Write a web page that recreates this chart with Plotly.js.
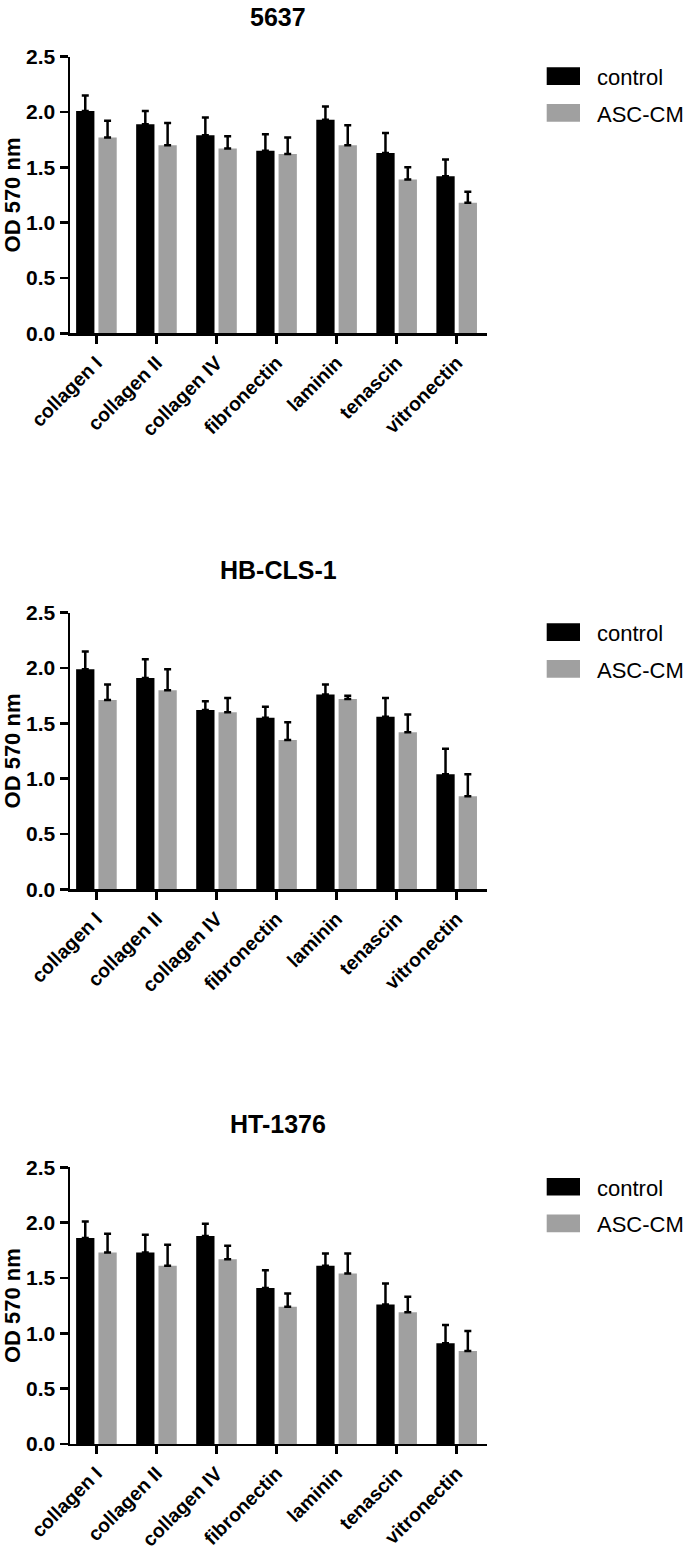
<!DOCTYPE html>
<html>
<head>
<meta charset="utf-8">
<script src="https://cdn.plot.ly/plotly-3.0.1.min.js"></script>
<style>html,body{margin:0;padding:0;background:#fff;}#chart{width:685px;height:1550px;}</style>
</head>
<body>
<div id="chart"></div>
<script>
// ---- data ----
const categories = ['collagen I', 'collagen II', 'collagen IV', 'fibronectin', 'laminin', 'tenascin', 'vitronectin'];
const seriesNames = ['control', 'ASC-CM'];
const panelTitles = ['5637', 'HB-CLS-1', 'HT-1376'];
const yTickVals = [0, 0.5, 1.0, 1.5, 2.0, 2.5];

const control5637 = [2.01, 1.89, 1.79, 1.65, 1.93, 1.63, 1.42];
const control5637Err = [0.14, 0.12, 0.16, 0.15, 0.12, 0.18, 0.15];
const asc5637 = [1.77, 1.70, 1.67, 1.62, 1.70, 1.39, 1.18];
const asc5637Err = [0.15, 0.20, 0.11, 0.15, 0.18, 0.11, 0.10];

const controlHB = [1.99, 1.91, 1.62, 1.55, 1.76, 1.56, 1.04];
const controlHBErr = [0.16, 0.17, 0.08, 0.10, 0.09, 0.17, 0.23];
const ascHB = [1.71, 1.80, 1.60, 1.35, 1.72, 1.42, 0.84];
const ascHBErr = [0.14, 0.19, 0.13, 0.16, 0.03, 0.16, 0.20];

const controlHT = [1.86, 1.73, 1.88, 1.41, 1.61, 1.26, 0.91];
const controlHTErr = [0.15, 0.16, 0.11, 0.16, 0.11, 0.19, 0.165];
const ascHT = [1.73, 1.61, 1.67, 1.24, 1.54, 1.19, 0.84];
const ascHTErr = [0.17, 0.19, 0.12, 0.12, 0.18, 0.14, 0.18];

// ---- layout helpers ----
const W = 685, H = 1550;
const FONT = 'Liberation Sans, Arial, Helvetica, sans-serif';
const colors = ['#000000', '#a0a0a0'];
const plotLeft = 70, plotRight = 486.7;
const panelTops = [56.7, 612.7, 1167.3];
const panelH = 276.6;
const px = x => x / W;
const py = y => 1 - y / H;

const panels = [
  {ctrl: control5637, ctrlErr: control5637Err, asc: asc5637, ascErr: asc5637Err},
  {ctrl: controlHB, ctrlErr: controlHBErr, asc: ascHB, ascErr: ascHBErr},
  {ctrl: controlHT, ctrlErr: controlHTErr, asc: ascHT, ascErr: ascHTErr}
];

const traces = [];
const layout = {
  width: W, height: H,
  margin: {l: 0, r: 0, t: 0, b: 0},
  paper_bgcolor: '#ffffff', plot_bgcolor: '#ffffff',
  barmode: 'group', bargap: 0.257, bargroupgap: 0.18,
  showlegend: false,
  font: {family: FONT, color: '#000'},
  shapes: [], annotations: []
};

panels.forEach((p, i) => {
  const n = i === 0 ? '' : String(i + 1);
  const xa = 'x' + n, ya = 'y' + n;
  const zeros = categories.map(() => 0);
  [[p.ctrl, p.ctrlErr], [p.asc, p.ascErr]].forEach((s, k) => {
    traces.push({
      type: 'bar', name: seriesNames[k], x: categories, y: s[0],
      xaxis: xa, yaxis: ya,
      marker: {color: colors[k], line: {width: 0}},
      error_y: {type: 'data', array: s[1], arrayminus: zeros, symmetric: false,
                color: '#000', thickness: 2.5, width: 3.5},
      hoverinfo: 'x+y+name'
    });
  });
  const top = panelTops[i], bot = top + panelH;
  layout['xaxis' + n] = {
    domain: [px(plotLeft), px(plotRight)], anchor: ya,
    type: 'category', range: [-0.44, 6.5],
    showline: true, linecolor: '#000', linewidth: 2.5,
    ticks: 'outside', ticklen: 8, tickwidth: 2.5, tickcolor: '#000',
    tickangle: -45, showgrid: false, zeroline: false,
    tickfont: {family: FONT, size: 19.5, color: '#000', weight: 'bold'},
    automargin: false, fixedrange: true
  };
  layout['yaxis' + n] = {
    domain: [py(bot), py(top)], anchor: xa,
    range: [0, 2.5], tickvals: yTickVals, tickformat: '.1f',
    showline: true, linecolor: '#000', linewidth: 2.5,
    ticks: 'outside', ticklen: 8, tickwidth: 2.5, tickcolor: '#000',
    showgrid: false, zeroline: false,
    tickfont: {family: FONT, size: 21, color: '#000', weight: 'bold'},
    title: {text: 'OD 570 nm', font: {family: FONT, size: 22, color: '#000', weight: 'bold'}, standoff: 5},
    automargin: false, fixedrange: true
  };
  // panel title
  layout.annotations.push({
    xref: 'paper', yref: 'paper', x: px((plotLeft + plotRight) / 2), y: py(Math.max(top - 43, 17)),
    xanchor: 'center', yanchor: 'middle', showarrow: false,
    text: '<b>' + panelTitles[i] + '</b>',
    font: {family: FONT, size: 25, color: '#000'}
  });
  // legend
  const legOff = [[10.6, 28.3], [47.3, 65]];
  seriesNames.forEach((name, k) => {
    layout.shapes.push({
      type: 'rect', xref: 'paper', yref: 'paper',
      x0: px(546.7), x1: px(580), y0: py(top + legOff[k][0]), y1: py(top + legOff[k][1]),
      fillcolor: colors[k], line: {width: 0}
    });
    layout.annotations.push({
      xref: 'paper', yref: 'paper', x: px(595), y: py(top + (legOff[k][0] + legOff[k][1]) / 2 + 1.5),
      xanchor: 'left', yanchor: 'middle', showarrow: false,
      text: name, font: {family: FONT, size: 22, color: '#000'}
    });
  });
});

Plotly.newPlot('chart', traces, layout, {displayModeBar: false, staticPlot: true});
</script>
</body>
</html>
